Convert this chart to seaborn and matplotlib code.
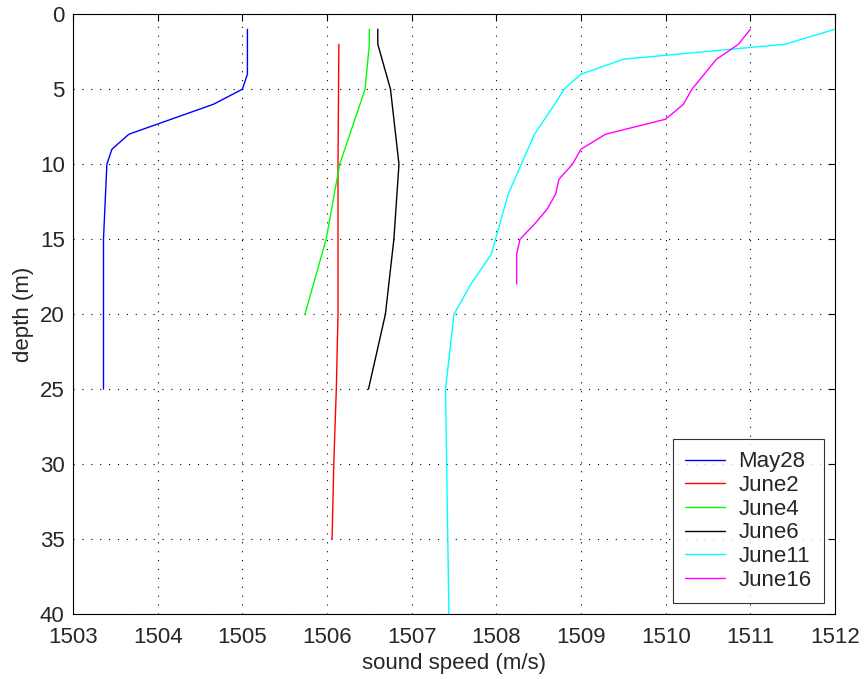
import pandas as pd
import seaborn as sns
import matplotlib.pyplot as plt

# Sound speed profiles (depth in m, speed in m/s)
may28_depth = [1, 4, 5, 6, 8, 9, 10, 15, 25]
may28_speed = [1505.06, 1505.06, 1505.00, 1504.66, 1503.66, 1503.46, 1503.40, 1503.36, 1503.36]

june2_depth = [2, 10, 20, 25, 30, 35]
june2_speed = [1506.14, 1506.13, 1506.13, 1506.11, 1506.08, 1506.06]

june4_depth = [1, 2, 5, 10, 15, 20]
june4_speed = [1506.50, 1506.50, 1506.45, 1506.15, 1505.99, 1505.74]

june6_depth = [1, 2, 5, 10, 15, 20, 25]
june6_speed = [1506.60, 1506.60, 1506.75, 1506.85, 1506.79, 1506.69, 1506.49]

june11_depth = [1, 2, 3, 4, 5, 6, 8, 12, 16, 18, 20, 25, 40]
june11_speed = [1512.00, 1511.41, 1509.50, 1509.00, 1508.80, 1508.69, 1508.45,
                1508.14, 1507.94, 1507.70, 1507.50, 1507.40, 1507.44]

june16_depth = [1, 2, 3, 5, 6, 7, 8, 9, 10, 11, 12, 13, 14, 15, 16, 18]
june16_speed = [1511.00, 1510.86, 1510.60, 1510.31, 1510.21, 1510.00, 1509.29, 1509.00,
                1508.90, 1508.74, 1508.70, 1508.60, 1508.45, 1508.28, 1508.24, 1508.24]

dates = ['May28', 'June2', 'June4', 'June6', 'June11', 'June16']
colors = ['#0000ff', '#ff0000', '#00ff00', '#000000', '#00ffff', '#ff00ff']

profiles = [
    (may28_depth, may28_speed),
    (june2_depth, june2_speed),
    (june4_depth, june4_speed),
    (june6_depth, june6_speed),
    (june11_depth, june11_speed),
    (june16_depth, june16_speed),
]

frames = []
for name, (d, s) in zip(dates, profiles):
    frames.append(pd.DataFrame({'depth': d, 'speed': s, 'date': name}))
df = pd.concat(frames, ignore_index=True)

sns.set_style('white')
plt.rcParams['font.family'] = ['Liberation Sans', 'DejaVu Sans']

fig = plt.figure(figsize=(8.65, 6.79), dpi=100)
ax = fig.add_axes([0.0844, 0.0957, 0.8809, 0.8833])

sns.lineplot(data=df, x='speed', y='depth', hue='date', hue_order=dates,
             palette=colors, sort=False, estimator=None, linewidth=1, ax=ax)

ax.set_xlim(1503, 1512)
ax.set_ylim(40, 0)
ax.set_xticks(range(1503, 1513))
ax.set_yticks(range(0, 41, 5))
ax.grid(True, linestyle=(0, (1, 7)), color='black', linewidth=0.8)
ax.tick_params(direction='in', top=True, right=True, length=5, labelsize=16,
               color='black', width=0.8)
ax.tick_params(axis='x', pad=9)
ax.tick_params(axis='y', pad=6)
for sp in ax.spines.values():
    sp.set_color('black')
    sp.set_linewidth(0.8)

ax.set_xlabel('sound speed (m/s)', fontsize=16, labelpad=4)
ax.set_ylabel('depth (m)', fontsize=16, labelpad=4)

leg = ax.legend(loc='lower right', fontsize=16, frameon=True, fancybox=False,
                handlelength=1.8, borderaxespad=0.5, labelspacing=0.12,
                borderpad=0.55, handletextpad=0.6)
leg.get_frame().set_edgecolor('black')
leg.get_frame().set_linewidth(0.8)

fig.savefig('out.png', dpi=100)
